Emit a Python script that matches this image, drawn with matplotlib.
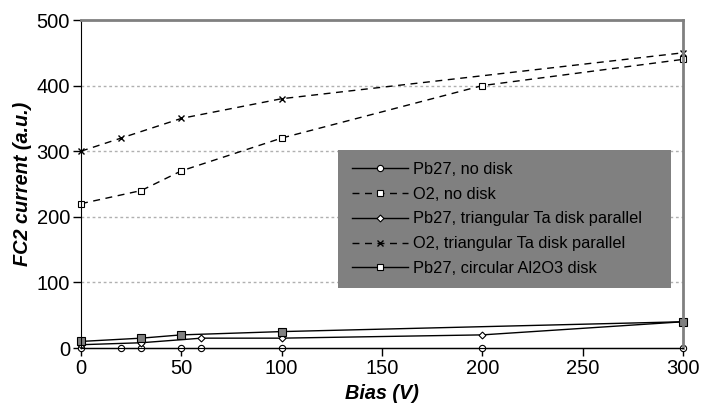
import matplotlib
matplotlib.use("Agg")
import matplotlib.pyplot as plt
from matplotlib.patches import Rectangle

plt.rcParams['font.family'] = ['Liberation Sans', 'DejaVu Sans']

# data
x_pb_nodisk = [0, 20, 30, 50, 60, 100, 200, 300]
y_pb_nodisk = [0, 0, 0, 0, 0, 0, 0, 0]

x_o2_nodisk = [0, 30, 50, 100, 200, 300]
y_o2_nodisk = [220, 240, 270, 320, 400, 440]

x_pb_ta = [0, 30, 60, 100, 200, 300]
y_pb_ta = [5, 8, 15, 15, 20, 40]

x_o2_ta = [0, 20, 50, 100, 300]
y_o2_ta = [300, 320, 350, 380, 450]

x_pb_al = [0, 30, 50, 100, 300]
y_pb_al = [10, 15, 20, 25, 40]

labels = ["Pb27, no disk", "O2, no disk", "Pb27, triangular Ta disk parallel",
          "O2, triangular Ta disk parallel", "Pb27, circular Al2O3 disk"]

W, H = 708, 405
L, R, T, B = 81, 683, 20, 348

fig = plt.figure(figsize=(W/100, H/100), dpi=100)
ax = fig.add_axes([L/W, 1-B/H, (R-L)/W, (B-T)/H])

h1, = ax.plot(x_pb_nodisk, y_pb_nodisk, '-', color='black', lw=1, clip_on=False,
              marker='o', ms=4.5, mfc='white', mec='black', mew=0.8)
h2, = ax.plot(x_o2_nodisk, y_o2_nodisk, '--', color='black', lw=1, dashes=(5, 4),
              clip_on=False, marker='s', ms=4.5, mfc='white', mec='black', mew=0.8)
h3, = ax.plot(x_pb_ta, y_pb_ta, '-', color='black', lw=1, clip_on=False,
              marker='D', ms=3.5, mfc='white', mec='black', mew=0.8)
h4, = ax.plot(x_o2_ta, y_o2_ta, '--', color='black', lw=1, dashes=(5, 4),
              clip_on=False, marker='x', ms=5, mec='black', mew=1)
h5, = ax.plot(x_pb_al, y_pb_al, '-', color='black', lw=1, clip_on=False,
              marker='s', ms=5.5, mfc='#808080', mec='black', mew=0.8)

ax.set_xlim(0, 300)
ax.set_ylim(0, 500)
ax.set_xticks(range(0, 301, 50))
ax.set_yticks(range(0, 501, 100))
ax.tick_params(direction='out', length=6, labelsize=14.5, width=1, pad=2)

for y in [100, 200, 300, 400]:
    ax.axhline(y, color='#b0b0b0', lw=1, ls=(0, (2, 2)), zorder=0)

ax.spines['left'].set_color('black')
ax.spines['bottom'].set_color('black')
ax.spines['top'].set_color('#808080')
ax.spines['top'].set_linewidth(2)
ax.spines['right'].set_color('#808080')
ax.spines['right'].set_linewidth(2)

ax.set_xlabel("Bias (V)", fontsize=14.3, fontweight='bold', fontstyle='italic', labelpad=4)
ax.set_ylabel("FC2 current (a.u.)", fontsize=14.3, fontweight='bold', fontstyle='italic',
              labelpad=3)

# grey legend box, fixed size as in the original
lx0, lx1, ly0, ly1 = 338, 671, 150, 288
box = Rectangle(((lx0-L)/(R-L), (B-ly1)/(B-T)), (lx1-lx0)/(R-L), (ly1-ly0)/(B-T),
                transform=ax.transAxes, facecolor='#808080', edgecolor='none',
                clip_on=False, zorder=4)
ax.add_patch(box)

leg = ax.legend([h1, h2, h3, h4, h5], labels, loc='center left',
                bbox_to_anchor=((352-L)/(R-L), (B-219)/(B-T)), borderaxespad=0,
                fontsize=11.8, frameon=False, borderpad=0,
                handlelength=3.4, handletextpad=0.3, labelspacing=0.6)
leg.set_zorder(5)
leg.legend_handles[4].set_markerfacecolor('white')
leg.legend_handles[4].set_markersize(4.5)

fig.savefig("out.png", dpi=100)
